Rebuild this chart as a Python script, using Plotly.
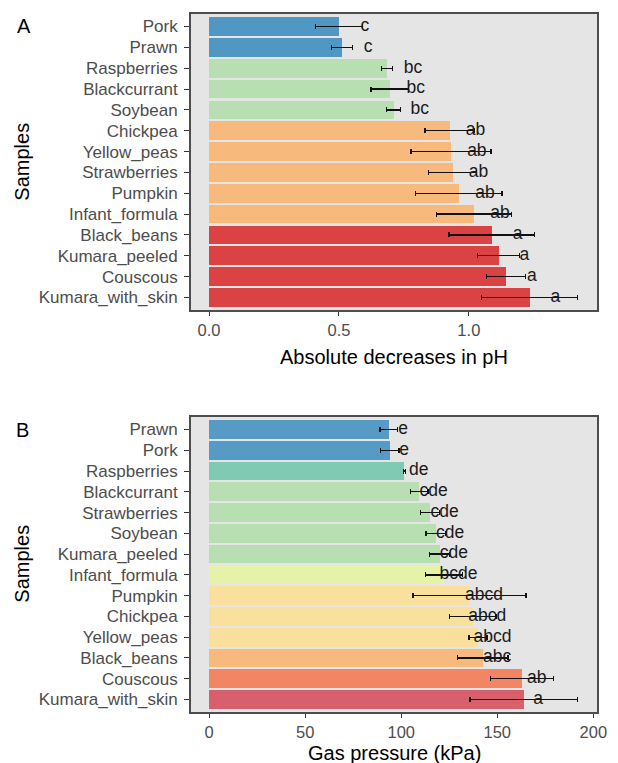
import plotly.graph_objects as go

# ---------------- Panel A data ----------------
samples_a = ["Pork", "Prawn", "Raspberries", "Blackcurrant", "Soybean", "Chickpea",
             "Yellow_peas", "Strawberries", "Pumpkin", "Infant_formula", "Black_beans",
             "Kumara_peeled", "Couscous", "Kumara_with_skin"]
ph_mean = [0.500, 0.512, 0.685, 0.696, 0.711, 0.926, 0.931, 0.937, 0.962,
           1.020, 1.088, 1.114, 1.143, 1.233]
ph_sd = [0.091, 0.040, 0.020, 0.073, 0.027, 0.095, 0.154, 0.092, 0.166,
         0.144, 0.164, 0.082, 0.076, 0.185]
ph_letters = ["c", "c", "bc", "bc", "bc", "ab", "ab", "ab", "ab", "ab", "a", "a", "a", "a"]
ph_colors = ["#2B83BA", "#2B83BA", "#ABDDA4", "#ABDDA4", "#ABDDA4", "#FDAE61", "#FDAE61",
             "#FDAE61", "#FDAE61", "#FDAE61", "#D7191C", "#D7191C", "#D7191C", "#D7191C"]
ph_ticks = [0.0, 0.5, 1.0]

# ---------------- Panel B data ----------------
samples_b = ["Prawn", "Pork", "Raspberries", "Blackcurrant", "Strawberries", "Soybean",
             "Kumara_peeled", "Infant_formula", "Pumpkin", "Chickpea", "Yellow_peas",
             "Black_beans", "Couscous", "Kumara_with_skin"]
gas_mean = [93.5, 94.0, 101.6, 109.4, 115.1, 117.9, 119.9, 122.3, 135.6, 137.3,
            140.0, 142.4, 163.0, 163.8]
gas_sd = [4.5, 4.8, 0.5, 4.6, 5.0, 5.0, 5.2, 9.6, 29.4, 12.0, 4.7, 13.1, 16.4, 28.0]
gas_letters = ["e", "e", "de", "cde", "cde", "cde", "cde", "bcde", "abcd", "abcd",
               "abcd", "abc", "ab", "a"]
gas_colors = ["#3288BD", "#3288BD", "#66C2A5", "#ABDDA4", "#ABDDA4", "#ABDDA4", "#ABDDA4",
              "#E6F598", "#FEE08B", "#FEE08B", "#FEE08B", "#FDAE61", "#F46D43", "#D53E4F"]
gas_ticks = [0, 50, 100, 150, 200]

W, H = 618, 763
FONT = "Arial, Liberation Sans, sans-serif"
BG = "#E5E5E5"


def rgba(hx, a=0.8):
    hx = hx.lstrip("#")
    r, g, b = int(hx[0:2], 16), int(hx[2:4], 16), int(hx[4:6], 16)
    return f"rgba({r},{g},{b},{a})"


fig = go.Figure()


def add_panel(cats, means, sds, letters, colors, xa, ya, offset):
    fig.add_trace(go.Bar(
        y=cats, x=means, orientation="h", width=0.9,
        marker=dict(color=[rgba(c) for c in colors], line=dict(width=0)),
        error_x=dict(type="data", array=sds, visible=True, color="#111111",
                     thickness=1.3, width=2.5),
        xaxis=xa, yaxis=ya, showlegend=False, hoverinfo="skip"))
    fig.add_trace(go.Scatter(
        y=cats, x=[m + offset for m in means], mode="text", text=letters,
        textposition="middle center",
        textfont=dict(family=FONT, size=17.5, color="#1A1A1A"),
        xaxis=xa, yaxis=ya, showlegend=False, hoverinfo="skip"))


add_panel(samples_a, ph_mean, ph_sd, ph_letters, ph_colors, "x", "y", 0.10)
add_panel(samples_b, gas_mean, gas_sd, gas_letters, gas_colors, "x2", "y2", 7.5)

xdom = [194 / W, 607 / W]
ydomA = [1 - 310 / H, 1 - 14 / H]
ydomB = [1 - 712 / H, 1 - 417 / H]

common_axis = dict(showline=True, mirror=True, linecolor="#4D4D4D", linewidth=1.6,
                   showgrid=False, zeroline=False, ticks="outside", ticklen=4,
                   tickwidth=1, tickcolor="#333333",
                   tickfont=dict(family=FONT, size=16.5, color="#4D4D4D"))
ycat_font = dict(family=FONT, size=17, color="#4D4D4D")


def ycat(cats, dom, anchor):
    return dict(domain=dom, anchor=anchor, type="category", categoryorder="array",
                categoryarray=cats, range=[len(cats) - 1 + 0.6, -0.6],
                tickmode="array", tickvals=cats, ticktext=cats,
                ticklabelstandoff=3, **{**common_axis, "ticklen": 5, "tickfont": ycat_font})


fig.update_layout(
    width=W, height=H, margin=dict(l=0, r=0, t=0, b=0),
    paper_bgcolor="white", plot_bgcolor=BG, bargap=0,
    xaxis=dict(domain=xdom, anchor="y", range=[-0.070, 1.494],
               tickvals=ph_ticks, ticktext=[f"{v:.1f}" for v in ph_ticks], **common_axis),
    yaxis=ycat(samples_a, ydomA, "x"),
    xaxis2=dict(domain=xdom, anchor="y2", range=[-9.5, 202],
                tickvals=gas_ticks, ticktext=[str(v) for v in gas_ticks], **common_axis),
    yaxis2=ycat(samples_b, ydomB, "x2"),
)

xc = (xdom[0] + xdom[1]) / 2
ann = [
    dict(text="Absolute decreases in pH", x=xc, y=1 - 357 / H),
    dict(text="Gas pressure (kPa)", x=xc, y=1 - 753 / H),
    dict(text="Samples", x=22 / W, y=1 - 162 / H, textangle=-90),
    dict(text="Samples", x=22 / W, y=1 - 564 / H, textangle=-90),
    dict(text="A", x=24 / W, y=1 - 26 / H, size=20),
    dict(text="B", x=23 / W, y=1 - 430 / H, size=20),
]
for a in ann:
    fig.add_annotation(text=a["text"], x=a["x"], y=a["y"], xref="paper", yref="paper",
                       xanchor="center", yanchor="middle", showarrow=False,
                       textangle=a.get("textangle", 0),
                       font=dict(family=FONT, size=a.get("size", 20), color="black"))

fig.write_html("out.html")
